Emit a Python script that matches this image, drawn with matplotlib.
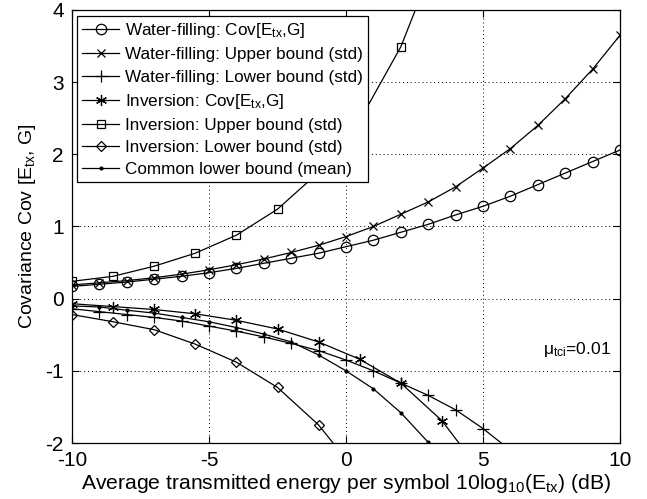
import matplotlib
matplotlib.use("Agg")
import matplotlib.pyplot as plt

plt.rcParams['font.family'] = ['Liberation Sans', 'DejaVu Sans']
plt.rcParams['mathtext.default'] = 'regular'
plt.rcParams['axes.unicode_minus'] = False

# --- data ---
x_wf = [-10, -9, -8, -7, -6, -5, -4, -3, -2, -1, 0, 1, 2, 3, 4, 5, 6, 7, 8, 9, 10]
wf_cov = [0.17, 0.20, 0.23, 0.27, 0.31, 0.36, 0.42, 0.49, 0.56, 0.63, 0.72, 0.81,
          0.92, 1.03, 1.16, 1.28, 1.42, 1.58, 1.74, 1.90, 2.06]
wf_upper = [0.19, 0.22, 0.25, 0.29, 0.34, 0.40, 0.47, 0.55, 0.64, 0.74, 0.86, 1.00,
            1.17, 1.34, 1.55, 1.81, 2.08, 2.40, 2.77, 3.18, 3.65]
x_wf_low = [-10, -9, -8, -7, -6, -5, -4, -3, -2, -1, 0, 1, 2, 3, 4, 5, 6]
wf_lower = [-0.14, -0.18, -0.22, -0.26, -0.31, -0.38, -0.45, -0.53, -0.62, -0.72,
            -0.85, -1.00, -1.17, -1.34, -1.54, -1.80, -2.10]

x_inv = [-10, -8.5, -7, -5.5, -4, -2.5, -1, 0.5, 2, 3.5, 5]
inv_cov = [-0.07, -0.11, -0.15, -0.21, -0.30, -0.42, -0.60, -0.84, -1.17, -1.69, -2.44]
x_inv_up = [-10, -8.5, -7, -5.5, -4, -2.5, -1, 0.5, 2, 3.5]
inv_upper = [0.24, 0.31, 0.45, 0.63, 0.88, 1.24, 1.75, 2.47, 3.49, 4.93]
x_inv_low = [-10, -8.5, -7, -5.5, -4, -2.5, -1, 0.5]
inv_lower = [-0.22, -0.32, -0.43, -0.63, -0.88, -1.23, -1.75, -2.46]

x_common = [-10, -9, -8, -7, -6, -5, -4, -3, -2, -1, 0, 1, 2, 3, 4]
common_lower = [-0.10, -0.115, -0.16, -0.20, -0.26, -0.32, -0.40, -0.49, -0.60,
                -0.78, -1.00, -1.25, -1.58, -1.99, -2.45]

labels = ['Water-filling: Cov[E$_{tx}$,G]',
          'Water-filling: Upper bound (std)',
          'Water-filling: Lower bound (std)',
          'Inversion: Cov[E$_{tx}$,G]',
          'Inversion: Upper bound (std)',
          'Inversion: Lower bound (std)',
          'Common lower bound (mean)']

fig = plt.figure(figsize=(6.47, 4.99), dpi=100)
ax = fig.add_axes([0.1113, 0.1122, 0.8470, 0.8678])

kw = dict(color='black', lw=0.9, mfc='none', mec='black', mew=0.9)
ax.plot(x_wf, wf_cov, marker='o', ms=7.5, label=labels[0], **kw)
ax.plot(x_wf, wf_upper, marker='x', ms=6, label=labels[1], **kw)
ax.plot(x_wf_low, wf_lower, marker='+', ms=9, label=labels[2], **kw)
ax.plot(x_inv, inv_cov, marker=(6, 2, 0), ms=8, label=labels[3], **kw)
ax.plot(x_inv_up, inv_upper, marker='s', ms=6, label=labels[4], **kw)
ax.plot(x_inv_low, inv_lower, marker='D', ms=5.5, label=labels[5], **kw)
ax.plot(x_common, common_lower, marker='.', ms=4, label=labels[6],
        color='black', lw=0.9, mfc='black', mec='black')

ax.set_xlim(-10, 10)
ax.set_ylim(-2, 4)
ax.set_xticks([-10, -5, 0, 5, 10])
ax.set_yticks([-2, -1, 0, 1, 2, 3, 4])
ax.tick_params(direction='in', top=True, right=True, labelsize=15, length=5)
ax.tick_params(axis='x', pad=6)
ax.tick_params(axis='y', pad=6)
ax.grid(True, color='black', linestyle=(0, (1, 3)), lw=0.7)
for s in ax.spines.values():
    s.set_linewidth(0.9)

ax.set_xlabel('Average transmitted energy per symbol 10log$_{10}$(E$_{tx}$) (dB)',
              fontsize=15.2, labelpad=1)
ax.set_ylabel('Covariance Cov [E$_{tx}$, G]', fontsize=14, labelpad=5)

ax.text(7.2, -0.71, '\u03bc$_{tci}$=0.01', fontsize=12.5, va='center', ha='left')

leg = ax.legend(loc='upper left', bbox_to_anchor=(0.0085, 0.986), fontsize=12.3,
                frameon=True, fancybox=False, edgecolor='black', framealpha=1,
                handlelength=2.2, handletextpad=0.35, borderpad=0.3,
                labelspacing=0.42, borderaxespad=0.0)
leg.get_frame().set_linewidth(0.9)

fig.savefig('out.png', dpi=100)
